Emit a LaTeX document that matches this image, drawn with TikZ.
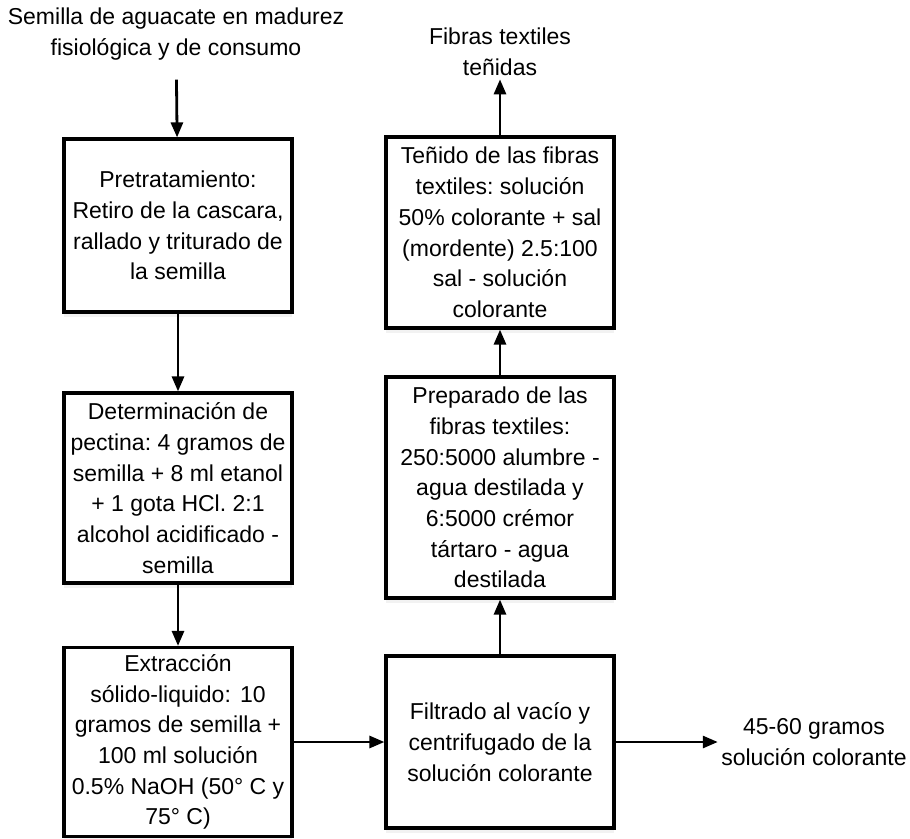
\documentclass[tikz,border=0pt]{standalone}
\usepackage{fontspec}
\setmainfont{Liberation Sans}
\frenchspacing
\usetikzlibrary{arrows.meta,shadows}
\tikzset{
  caja/.style={draw, line width=3.2pt, fill=white, minimum width=228pt, align=center,
    inner sep=2pt, font=\fontsize{23}{30.7}\selectfont,
    drop shadow={shadow xshift=0pt, shadow yshift=-5pt, opacity=0.10}},
  texto/.style={align=center, font=\fontsize{23}{30.7}\selectfont},
  flecha/.style={line width=2.8pt, -{Triangle[length=15pt,width=12pt]}}
}
\begin{document}
\begin{tikzpicture}[x=1pt,y=-1pt]
    \useasboundingbox (0,0) rectangle (910,838);
    \node[texto] (semilla) at (176,34) {Semilla de aguacate en madurez\\fisiológica y de consumo};
    \node[caja, minimum height=173pt] (pre) at (178,225.5) {Pretratamiento:\\Retiro de la cascara,\\rallado y triturado de\\la semilla};
    \node[caja, minimum height=190pt] (pec) at (178,488) {Determinación de\\pectina: 4 gramos de\\semilla + 8 ml etanol\\+ 1 gota HCl. 2:1\\alcohol acidificado -\\semilla};
    \node[caja, minimum height=189pt] (ext) at (178,742) {Extracción\\sólido-liquido:\hspace{0.12em} 10\\gramos de semilla +\\100 ml solución\\0.5\% NaOH (50° C y\\75° C)};
    \node[caja, minimum height=172pt] (fil) at (500,742) {Filtrado al vacío y\\centrifugado de la\\solución colorante};
    \node[caja, minimum height=221pt] (fib) at (500,487.5) {Preparado de las\\fibras textiles:\\250:5000 alumbre -\\agua destilada y\\6:5000 crémor\\tártaro - agua\\destilada};
    \node[caja, minimum height=191pt] (ten) at (500,232.5) {Teñido de las fibras\\textiles: solución\\50\% colorante + sal\\(mordente) 2.5:100\\sal - solución\\colorante};
    \node[texto] (tenidas) at (500,52) {Fibras textiles\\teñidas};
    \node[texto] (gramos) at (814,742) {45-60 gramos\\solución colorante};
    \draw[flecha, shorten <=16pt] (semilla) -- (pre);
    \draw[flecha] (pre) -- (pec);
    \draw[flecha] (pec) -- (ext);
    \draw[flecha] (ext) -- (fil);
    \draw[flecha] (fil) -- (fib);
    \draw[flecha] (fib) -- (ten);
    \draw[flecha] (ten) -- (tenidas);
    \draw[flecha] (fil) -- (gramos);
\end{tikzpicture}
\end{document}
